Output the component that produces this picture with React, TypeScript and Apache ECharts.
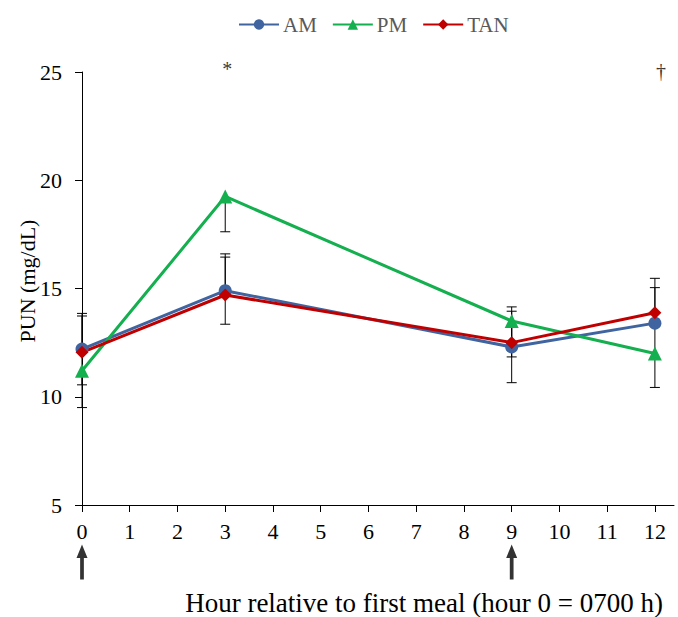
import React, { useEffect, useRef } from "react";
import * as echarts from "echarts";

const hours = [0, 3, 9, 12];
const amValues = [12.2, 14.9, 12.3, 13.4];
const amErr = [1.65, 1.55, 1.65, 1.64];
const pmValues = [11.2, 19.25, 13.5, 12.0];
const pmErrDown = [1.7, 1.63, 1.66, 1.57];
const tanValues = [12.05, 14.7, 12.5, 13.88];
const tanErrUp = [1.68, 1.9, 1.65, 1.59];
const xTickValues = [0, 1, 2, 3, 4, 5, 6, 7, 8, 9, 10, 11, 12];
const mealHours = [0, 9];
const marks = [
  { hour: 3, text: "*" },
  { hour: 12, text: "†" },
];
const yTitle = "PUN (mg/dL)";
const xTitle = "Hour relative to first meal (hour 0 = 0700 h)";

const FONT = "'Liberation Serif', 'Times New Roman', serif";
const BLUE = "#3F64A0";
const GREEN = "#14AF4E";
const RED = "#C00000";

function errData(values: number[], up: number[], down: number[]) {
  return hours.map((h, i) => [h, values[i], up[i], down[i]]);
}

const zeros = hours.map(() => 0);

function errorSeries(name: string, data: number[][]) {
  return {
    type: "custom",
    name: name + "-err",
    z: 1,
    silent: true,
    data,
    renderItem: (params: any, api: any) => {
      const x = api.value(0);
      const v = api.value(1);
      const up = api.value(2);
      const down = api.value(3);
      const top = api.coord([x, v + up]);
      const bot = api.coord([x, v - down]);
      const children: any[] = [
        {
          type: "line",
          shape: { x1: top[0], y1: top[1], x2: bot[0], y2: bot[1] },
          style: { stroke: "#000", lineWidth: 1 },
        },
      ];
      if (up > 0)
        children.push({
          type: "line",
          shape: { x1: top[0] - 5, y1: top[1], x2: top[0] + 5, y2: top[1] },
          style: { stroke: "#000", lineWidth: 1 },
        });
      if (down > 0)
        children.push({
          type: "line",
          shape: { x1: bot[0] - 5, y1: bot[1], x2: bot[0] + 5, y2: bot[1] },
          style: { stroke: "#000", lineWidth: 1 },
        });
      return { type: "group", children };
    },
  };
}

export default function App() {
  const ref = useRef<HTMLDivElement>(null);
  useEffect(() => {
    if (!ref.current) return;
    document.body.style.margin = "0";
    const chart = echarts.init(ref.current, undefined, { renderer: "svg" });
    const lineSeries = (name: string, values: number[], color: string, symbol: string, size: number) => ({
      type: "line",
      name,
      z: 3,
      data: hours.map((h, i) => [h, values[i]]),
      symbol,
      symbolSize: size,
      showSymbol: true,
      lineStyle: { color, width: 3 },
      itemStyle: { color },
    });
    chart.setOption({
      animation: false,
      legend: {
        top: 9,
        left: 233,
        data: ["AM", "PM", "TAN"],
        itemWidth: 40,
        itemHeight: 13,
        itemGap: 15,
        textStyle: { fontFamily: FONT, fontSize: 21, color: "#595959", padding: [0, 0, 0, -1] },
      },
      grid: { left: 82, right: 4, top: 72, bottom: 112, containLabel: false },
      xAxis: {
        type: "value",
        min: 0,
        max: 12.4,
        interval: 1,
        axisLine: { lineStyle: { color: "#000", width: 1 } },
        axisTick: { show: true, length: 7, customValues: xTickValues, lineStyle: { color: "#000" } },
        axisLabel: {
          customValues: xTickValues,
          margin: 15,
          fontFamily: FONT,
          fontSize: 22,
          color: "#000",
        },
        splitLine: { show: false },
      },
      yAxis: {
        type: "value",
        min: 5,
        max: 25,
        interval: 5,
        axisLine: { show: true, lineStyle: { color: "#000", width: 1 } },
        axisTick: { show: true, length: 7, lineStyle: { color: "#000" } },
        axisLabel: { margin: 20, fontFamily: FONT, fontSize: 22, color: "#000" },
        splitLine: { show: false },
      },
      graphic: [
        {
          type: "text",
          x: 27,
          y: 281,
          rotation: Math.PI / 2,
          style: {
            text: yTitle,
            fontFamily: FONT,
            fontSize: 22,
            fill: "#000",
            align: "center",
            verticalAlign: "middle",
          },
        },
        {
          type: "text",
          right: 15,
          top: 589,
          style: {
            text: xTitle,
            fontFamily: FONT,
            fontSize: 27,
            fill: "#000",
          },
        },
      ],
      series: [
        errorSeries("AM", errData(amValues, amErr, amErr)),
        errorSeries("PM", errData(pmValues, zeros, pmErrDown)),
        errorSeries("TAN", errData(tanValues, tanErrUp, zeros)),
        lineSeries("AM", amValues, BLUE, "circle", 13),
        lineSeries("PM", pmValues, GREEN, "triangle", 14),
        lineSeries("TAN", tanValues, RED, "diamond", 13),
        {
          type: "scatter",
          name: "meals",
          silent: true,
          clip: false,
          data: mealHours.map((h) => [h, 5]),
          symbol: "path://M5,0 L10,13 L6.7,13 L6.7,34 L3.3,34 L3.3,13 L0,13 Z",
          symbolSize: [11, 35],
          symbolOffset: [0, 57],
          itemStyle: { color: "#000" },
        },
        {
          type: "scatter",
          name: "marks",
          silent: true,
          clip: false,
          symbolSize: 0,
          data: marks.map((m) => ({
            value: [m.hour, 25],
            label: {
              show: true,
              formatter: m.text,
              position: "inside",
              offset: m.text === "*" ? [2, -3] : [6, -1],
              fontFamily: FONT,
              fontSize: 20,
              color: "#000",
            },
          })),
        },
      ],
    });
    return () => chart.dispose();
  }, []);
  return <div ref={ref} style={{ width: 678, height: 617 }} />;
}
